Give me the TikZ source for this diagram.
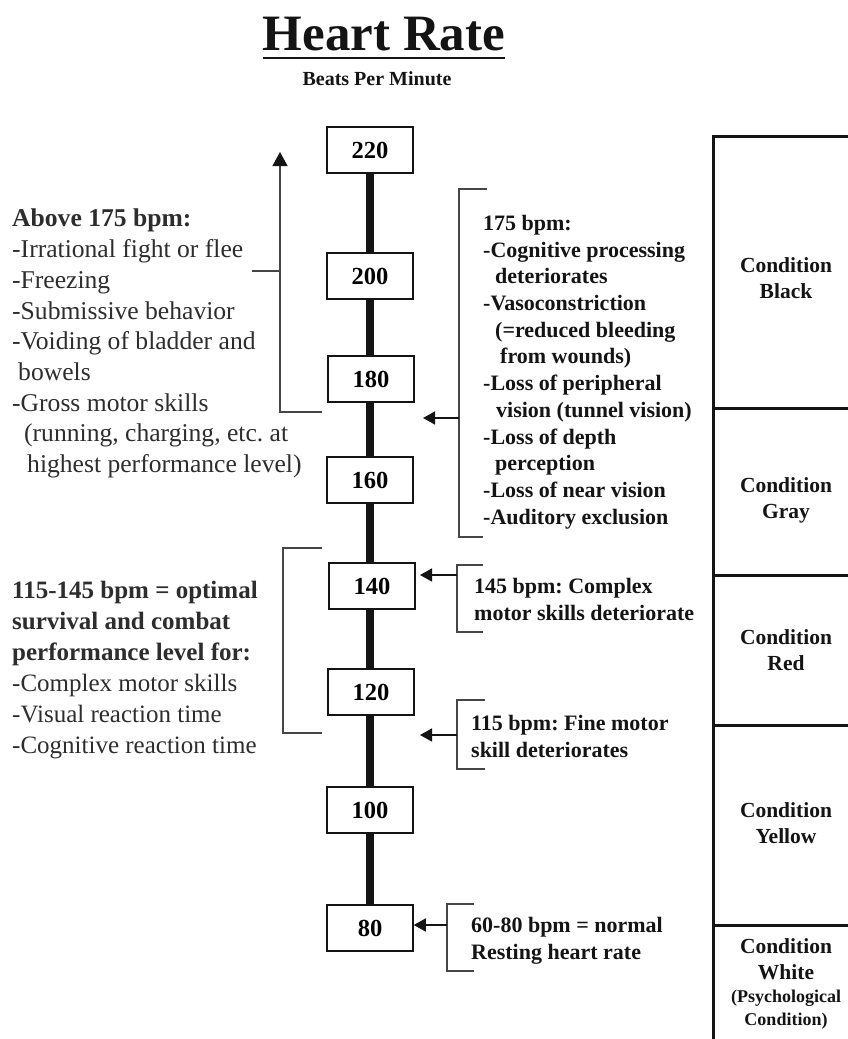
\documentclass[tikz,border=0pt]{standalone}
\usepackage{fontspec}
\setmainfont{Liberation Serif}
\usetikzlibrary{positioning, arrows.meta}
\definecolor{hrink}{RGB}{20,20,20}
\definecolor{hrtext}{RGB}{45,45,45}
\definecolor{hrline}{RGB}{70,70,70}
\frenchspacing

\begin{document}
\begin{tikzpicture}[x=1pt, y=-1pt,
  bpm/.style={rectangle, draw=hrink, line width=1.5pt, fill=white,
              minimum width=86pt, minimum height=46pt, inner sep=0pt,
              font=\fontsize{24.5}{28}\selectfont\bfseries},
  spine/.style={line width=8pt, color=hrink},
  band/.style={line width=3pt, color=hrink},
  brk/.style={line width=1.3pt, color=hrline},
  arr/.style={-{Triangle[length=12pt, width=13pt]}, line width=1.5pt, color=hrink},
  lnote/.style={anchor=north west, inner sep=0pt, align=left, text=hrtext,
                font=\fontsize{25.6}{30.7}\selectfont},
  rnote/.style={anchor=north west, inner sep=0pt, align=left, text=hrink,
                font=\fontsize{22}{26.7}\selectfont\bfseries},
  cond/.style={inner sep=0pt, align=center, text=hrink,
               font=\fontsize{21.5}{26}\selectfont\bfseries}
]
  \useasboundingbox (0,0) rectangle (848,1039);

  % title
  \node[anchor=base, inner sep=0pt, font=\fontsize{51}{55}\selectfont\bfseries, text=hrink]
    (title) at (384,50) {Heart Rate};
  \draw[line width=2.5pt, hrink] ([yshift=-8pt]title.base west) -- ([yshift=-8pt]title.base east);
  \node[anchor=base, inner sep=0pt, font=\fontsize{20}{24}\selectfont\bfseries, text=hrink]
    (subtitle) at (377,85) {Beats Per Minute};

  % the scale
  \node[bpm] (b220) at (370,150) {220};
  \node[bpm] (b200) at (370,276) {200};
  \node[bpm] (b180) at (371,379) {180};
  \node[bpm] (b160) at (370,480) {160};
  \node[bpm] (b140) at (372,586) {140};
  \node[bpm] (b120) at (371,692) {120};
  \node[bpm] (b100) at (370,810) {100};
  \node[bpm] (b80)  at (370,928) {80};
  \draw[spine] (b220.south) -- (b220.south |- b200.north);
  \draw[spine] (b200.south) -- (b200.south |- b180.north);
  \draw[spine] (b200.south |- b180.south) -- (b200.south |- b160.north);
  \draw[spine] (b160.south) -- (b160.south |- b140.north);
  \draw[spine] (b160.south |- b140.south) -- (b160.south |- b120.north);
  \draw[spine] (b160.south |- b120.south) -- (b160.south |- b100.north);
  \draw[spine] (b100.south) -- (b80.north);

  % left side
  \node[lnote] (above) at (12,209)
    {\textbf{Above 175 bpm:}\\-Irrational fight or flee\\-Freezing\\-Submissive behavior\\
     -Voiding of bladder and\\\hspace*{6pt}bowels\\-Gross motor skills\\
     \hspace*{12pt}(running, charging, etc. at\\\hspace*{15pt}highest performance level)};
  \coordinate (upbot) at (322,412);
  \coordinate (uptop) at (280,152);
  \coordinate (uptick) at (252,271);
  \draw[brk, -{Triangle[length=14pt, width=15pt, color=hrink]}] (upbot) -| (uptop);
  \draw[brk] (uptick) -- (uptick -| uptop);

  \node[lnote, font=\fontsize{25}{31}\selectfont] (optimal) at (12,581)
    {\textbf{115-145 bpm = optimal}\\\textbf{survival and combat}\\\textbf{performance level for:}\\
     -Complex motor skills\\-Visual reaction time\\-Cognitive reaction time};
  \coordinate (optop) at (322,548);
  \coordinate (opbot) at (322,733);
  \draw[brk] (optop) -- ++(-39,0) |- (opbot);

  % right side notes
  \node[rnote] (n175) at (483,215)
    {175 bpm:\\-Cognitive processing\\\hspace*{12pt}deteriorates\\-Vasoconstriction\\
     \hspace*{12pt}(=reduced bleeding\\\hspace*{17pt}from wounds)\\-Loss of peripheral\\
     \hspace*{13pt}vision (tunnel vision)\\-Loss of depth\\\hspace*{12pt}perception\\
     -Loss of near vision\\-Auditory exclusion};
  \coordinate (k175top) at (487,189);
  \coordinate (k175bot) at (483,537);
  \coordinate (k175mid) at (459,418);
  \coordinate (t175) at (423,418);
  \draw[brk] (k175top) -- (k175top -| k175mid) |- (k175bot);
  \draw[arr] (k175mid) -- (t175);

  \node[rnote] (n145) at (474,578) {145 bpm: Complex\\motor skills deteriorate};
  \coordinate (k145top) at (483,565);
  \coordinate (k145bot) at (483,632);
  \coordinate (k145mid) at (457,575);
  \coordinate (t145) at (420,575);
  \draw[brk] (k145top) -- (k145top -| k145mid) |- (k145bot);
  \draw[arr] (k145mid) -- (t145);

  \node[rnote] (n115) at (471,715) {115 bpm: Fine motor\\skill deteriorates};
  \coordinate (k115top) at (485,700);
  \coordinate (k115bot) at (485,769);
  \coordinate (k115mid) at (457,735);
  \coordinate (t115) at (420,735);
  \draw[brk] (k115top) -- (k115top -| k115mid) |- (k115bot);
  \draw[arr] (k115mid) -- (t115);

  \node[rnote] (n80) at (471,917) {60-80 bpm = normal\\Resting heart rate};
  \coordinate (k80top) at (474,904);
  \coordinate (k80bot) at (474,971);
  \coordinate (k80mid) at (447,925);
  \draw[brk] (k80top) -- (k80top -| k80mid) |- (k80bot);
  \draw[arr] (k80mid) -- (b80.east |- k80mid);

  % conditions
  \draw[band] (713,1039) -- (713,136) -- (848,136);
  \draw[band] (713,408) -- (848,408);
  \draw[band] (713,575) -- (848,575);
  \draw[band] (713,725) -- (848,725);
  \draw[band] (713,925) -- (848,925);
  \node[cond] (cblack)  at (786,278) {Condition\\Black};
  \node[cond] (cgray)   at (786,500) {Condition\\Gray};
  \node[cond] (cred)    at (786,650) {Condition\\Red};
  \node[cond] (cyellow) at (786,823) {Condition\\Yellow};
  \node[cond] (cwhite)  at (786,984)
    {Condition\\White\\[-3pt]{\fontsize{18}{22}\selectfont(Psychological}\\[-3pt]
     {\fontsize{18}{22}\selectfont Condition)}};
\end{tikzpicture}
\end{document}
